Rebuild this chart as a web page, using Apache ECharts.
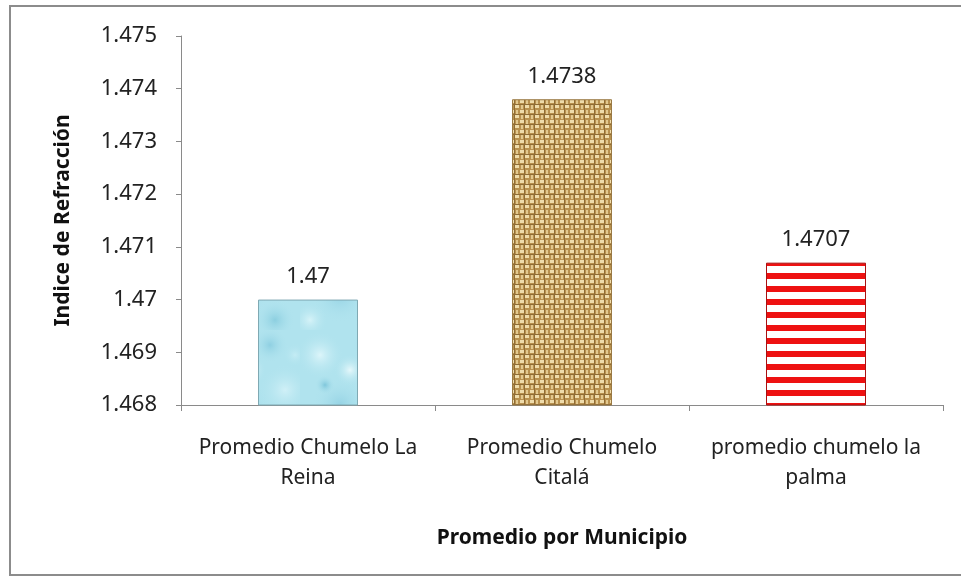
<!DOCTYPE html>
<html><head><meta charset="utf-8">
<script src="https://cdn.jsdelivr.net/npm/echarts@6/dist/echarts.min.js"></script>
<style>html,body{margin:0;padding:0;background:#fff}#c{width:961px;height:577px}</style>
</head><body><div id="c"></div>
<script>
const categories = ['Promedio Chumelo La\nReina', 'Promedio Chumelo\nCitalá', 'promedio chumelo la\npalma'];
const values = [1.47, 1.4738, 1.4707];
const yTicks = {min: 1.468, max: 1.475, interval: 0.001};
const yTitle = 'Indice de Refracción';
const xTitle = 'Promedio por Municipio';

function mk(w, h, draw){ const c=document.createElement('canvas'); c.width=w; c.height=h; draw(c.getContext('2d')); return c; }
// water-like light cyan texture
const water = mk(100, 110, g => {
  g.fillStyle='#b0e3ee'; g.fillRect(0,0,100,110);
  const blobs=[[20,25,24,'#dcf5fa'],[70,15,18,'#8fd0e2'],[85,60,26,'#d0f0f7'],[40,75,28,'#95d3e4'],[10,100,18,'#d6f3f8'],[75,100,20,'#8ccfe0'],[50,40,16,'#e6f8fb'],[95,25,12,'#c4ecf4'],[25,55,10,'#7fc7db']];
  blobs.forEach(b=>{ const gr=g.createRadialGradient(b[0],b[1],0,b[0],b[1],b[2]); gr.addColorStop(0,b[3]); gr.addColorStop(1,'rgba(176,227,238,0)'); g.fillStyle=gr; g.beginPath(); g.arc(b[0],b[1],b[2],0,Math.PI*2); g.fill(); });
});
// burlap weave texture
const burlap = mk(10, 10, g => {
  g.fillStyle='#b8914f'; g.fillRect(0,0,10,10);
  g.fillStyle='#efdcab'; g.fillRect(0,0,4,3); g.fillRect(5,5,4,3);
  g.fillStyle='#e2c88f'; g.fillRect(6,0,2,4); g.fillRect(1,5,2,4);
  g.fillStyle='#8f6c35'; g.fillRect(4,0,1,10); g.fillRect(0,4,10,1);
});
// red/white horizontal stripes
const stripes = mk(4, 13, g => {
  g.fillStyle='#ffffff'; g.fillRect(0,0,4,13);
  g.fillStyle='#ee1111'; g.fillRect(0,0,4,6);
});
const fills = [
  {image: water, repeat: 'repeat'},
  {image: burlap, repeat: 'repeat'},
  {image: stripes, repeat: 'repeat'}
];
const borders = ['#7fa9b3', '#9a7a44', '#aa1111'];

const font = '"Noto Sans", "Open Sans", sans-serif';
const chart = echarts.init(document.getElementById('c'), null, {renderer: 'canvas'});
chart.setOption({
  animation: false,
  backgroundColor: '#fff',
  grid: {left: 181, right: 18, top: 36, bottom: 172, containLabel: false},
  graphic: [{type: 'rect', shape: {x: 10, y: 6, width: 960, height: 569}, style: {fill: 'none', stroke: '#8c8c8c', lineWidth: 2}, z: 100}],
  xAxis: {
    type: 'category', data: categories,
    axisLine: {lineStyle: {color: '#8a8a8a', width: 1}},
    axisTick: {show: true, length: 6, lineStyle: {color: '#8a8a8a'}},
    axisLabel: {color: '#222', fontFamily: font, fontSize: 21, lineHeight: 30, margin: 28, interval: 0, hideOverlap: false},
    name: xTitle, nameLocation: 'middle', nameGap: 123,
    nameTextStyle: {color: '#111', fontFamily: font, fontSize: 21, fontWeight: 'bold'}
  },
  yAxis: {
    type: 'value', min: yTicks.min, max: yTicks.max, interval: yTicks.interval,
    axisLine: {show: true, lineStyle: {color: '#8a8a8a', width: 1}},
    axisTick: {show: true, length: 5, lineStyle: {color: '#8a8a8a'}},
    splitLine: {show: false},
    axisLabel: {color: '#222', fontFamily: font, fontSize: 22, margin: 24,
      formatter: v => String(parseFloat(v.toFixed(4)))},
    name: yTitle, nameLocation: 'middle', nameGap: 107, nameRotate: 90,
    nameTextStyle: {color: '#111', fontFamily: font, fontSize: 21, fontWeight: 'bold'}
  },
  series: [{
    type: 'bar', barWidth: 100,
    data: values.map((v, i) => ({value: v, itemStyle: {color: fills[i], borderColor: borders[i], borderWidth: 1}})),
    label: {show: true, position: 'top', distance: 12, color: '#222', fontFamily: font, fontSize: 22,
      formatter: p => String(p.value)}
  }]
});
</script></body></html>
